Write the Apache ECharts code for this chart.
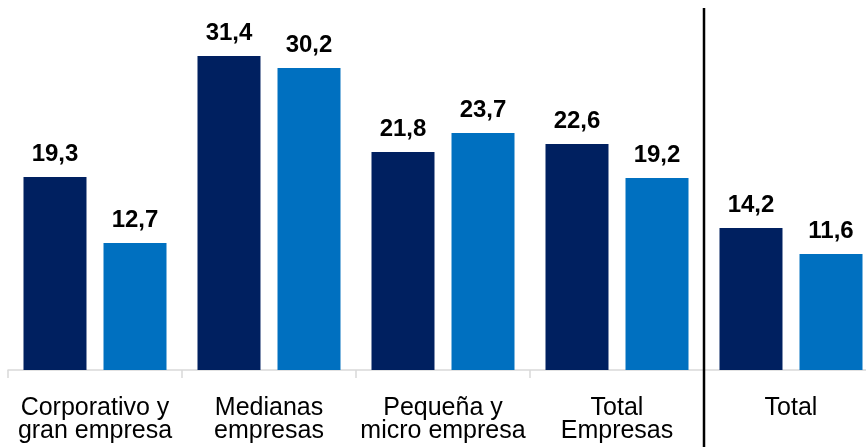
<!DOCTYPE html>
<html>
<head>
<meta charset="utf-8">
<script src="https://cdn.jsdelivr.net/npm/echarts@6/dist/echarts.min.js"></script>
<style>
html,body{margin:0;padding:0;background:#fff;overflow:hidden;width:866px;height:447px;}
#chart{width:878px;height:447px;}
</style>
</head>
<body>
<div id="chart"></div>
<script>
const categories = ["Corporativo y\ngran empresa", "Medianas\nempresas", "Pequeña y\nmicro empresa", "Total\nEmpresas", "Total"];
const series1 = [19.3, 31.4, 21.8, 22.6, 14.2];
const series2 = [12.7, 30.2, 23.7, 19.2, 11.6];

const chart = echarts.init(document.getElementById('chart'), null, {renderer: 'canvas'});
const fontFamily = '"Liberation Sans", Arial, sans-serif';
const labelCfg = {
  show: true,
  position: 'top',
  distance: 11,
  fontFamily: fontFamily,
  fontSize: 24,
  fontWeight: 'bold',
  color: '#000',
  formatter: p => String(p.value).replace('.', ',')
};
chart.setOption({
  animation: false,
  backgroundColor: '#fff',
  grid: {left: 8, top: 10, right: 0, bottom: 77, containLabel: false},
  xAxis: {
    type: 'category',
    data: categories,
    axisLine: {show: true, lineStyle: {color: '#D9D9D9', width: 1.5}},
    axisTick: {show: true, length: 8, lineStyle: {color: '#D9D9D9', width: 1.5}},
    axisLabel: {
      interval: 0,
      margin: 27,
      fontFamily: fontFamily,
      fontSize: 25,
      lineHeight: 23,
      color: '#000'
    }
  },
  yAxis: {type: 'value', min: 0, max: 36, show: false, splitLine: {show: false}},
  series: [
    {type: 'bar', data: series1, barWidth: 63, barGap: '27%', itemStyle: {color: '#002060'}, label: labelCfg},
    {type: 'bar', data: series2, barWidth: 63, barGap: '27%', itemStyle: {color: '#0070C0'}, label: labelCfg}
  ]
});

// separator line between "Total Empresas" and "Total"
const x3 = chart.convertToPixel({xAxisIndex: 0}, categories[3]);
const x4 = chart.convertToPixel({xAxisIndex: 0}, categories[4]);
const sepX = (x3 + x4) / 2;
chart.setOption({
  graphic: [{
    type: 'line',
    shape: {x1: sepX, y1: 8, x2: sepX, y2: 447},
    style: {stroke: '#000', lineWidth: 2.5},
    z: 10
  }]
});
</script>
</body>
</html>
